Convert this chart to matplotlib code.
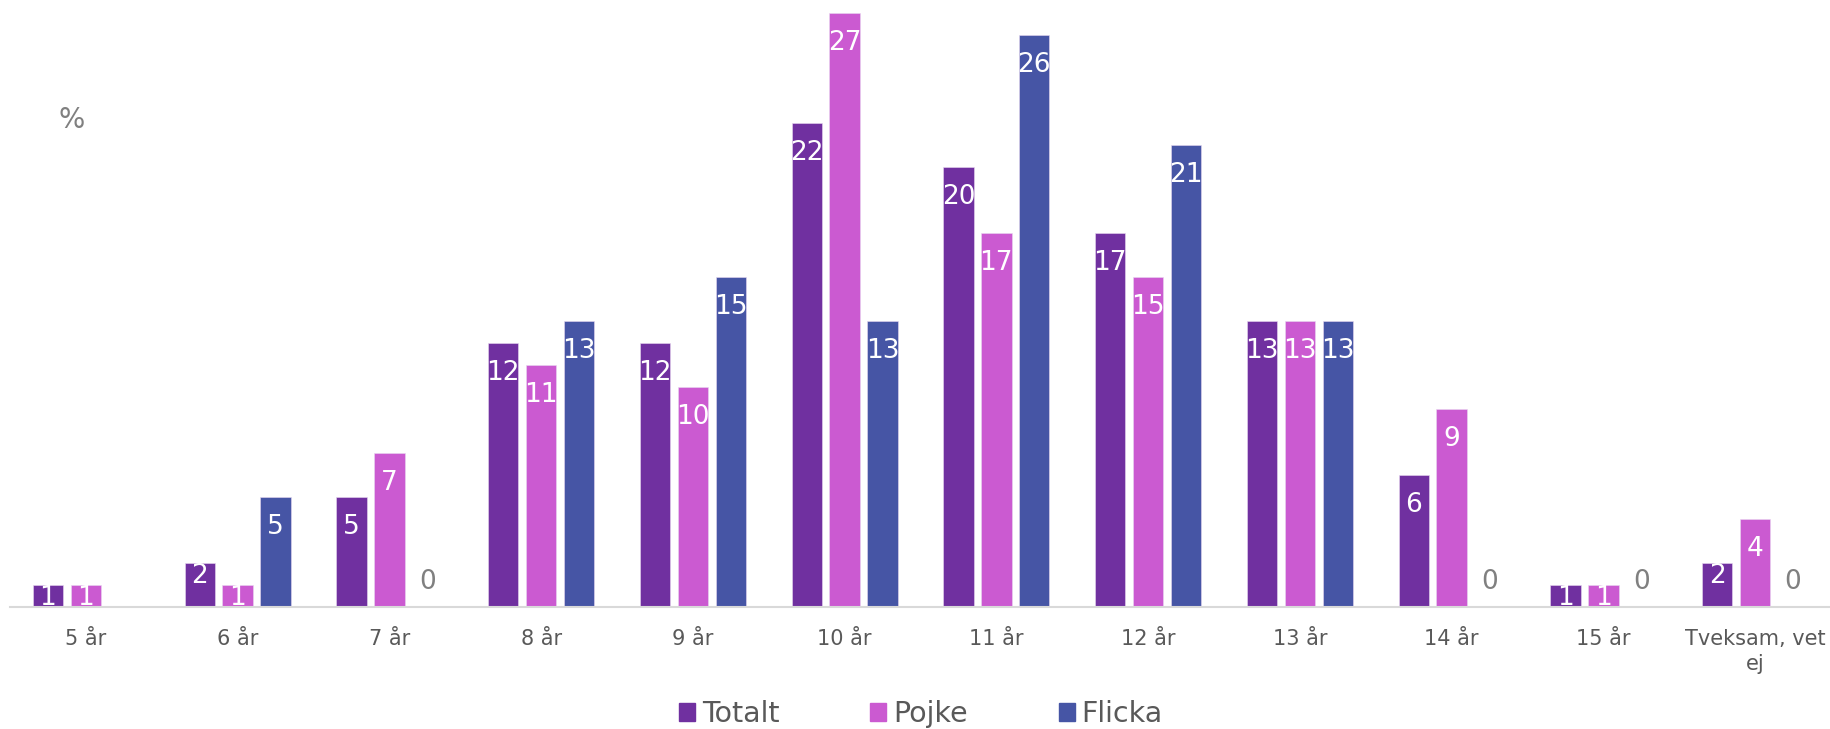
import matplotlib.pyplot as plt
from matplotlib.patches import Patch
import numpy as np

plt.rcParams['font.family'] = ['DejaVu Sans']

categories = ['5 år', '6 år', '7 år', '8 år', '9 år', '10 år', '11 år', '12 år',
              '13 år', '14 år', '15 år', 'Tveksam, vet\nej']
totalt = [1, 2, 5, 12, 12, 22, 20, 17, 13, 6, 1, 2]
pojke = [1, 1, 7, 11, 10, 27, 17, 15, 13, 9, 1, 4]
flicka = [None, 5, 0, 13, 15, 13, 26, 21, 13, 0, 0, 0]
series_names = ['Totalt', 'Pojke', 'Flicka']
colors = ['#7030A0', '#CB5AD1', '#4655A5']

fig = plt.figure(figsize=(18.31, 7.29), dpi=100)
ax = fig.add_axes([10 / 1831, 122 / 729, 1 - 10 / 1831, 607 / 729])

x = np.arange(len(categories))
width = 0.2
offsets = [-0.25, 0, 0.25]

for series, off, col in zip([totalt, pojke, flicka], offsets, colors):
    for xi, v in zip(x, series):
        if v is None:
            continue
        if v > 0:
            ax.bar(xi + off, v, width, color=col, edgecolor='#e8d8f0', linewidth=0.4)
            dy = -9.5 if v <= 2 else -21.5
            ax.annotate(str(v), (xi + off, v), xytext=(0, dy), textcoords='offset points',
                        ha='center', va='center', color='white', fontsize=19)
        else:
            ax.annotate(str(v), (xi + off, 0), xytext=(0, 18), textcoords='offset points',
                        ha='center', va='center', color='#808080', fontsize=19)

ax.set_xlim(-0.5, len(categories) - 0.5)
ax.set_ylim(0, 27.6)
ax.set_xticks(x)
ax.set_xticklabels(categories, fontsize=15, color='#595959', linespacing=1.3)
ax.tick_params(axis='x', length=0, pad=16)
ax.set_yticks([])
for s in ['top', 'right', 'left']:
    ax.spines[s].set_visible(False)
ax.spines['bottom'].set_color('#D9D9D9')
ax.spines['bottom'].set_linewidth(1.5)

fig.text(72 / 1831, 1 - 120 / 729, '%', fontsize=20, color='#808080', ha='center', va='center')

handles = [Patch(color=c, label=n) for c, n in zip(colors, series_names)]
fig.legend(handles=handles, loc='center', bbox_to_anchor=(0.503, 1 - 714 / 729), ncol=3,
           frameon=False, fontsize=20.5, labelcolor='#595959', handlelength=0.55,
           handleheight=0.55, handletextpad=0.25, columnspacing=3.2)

fig.savefig('out.png', dpi=100)
